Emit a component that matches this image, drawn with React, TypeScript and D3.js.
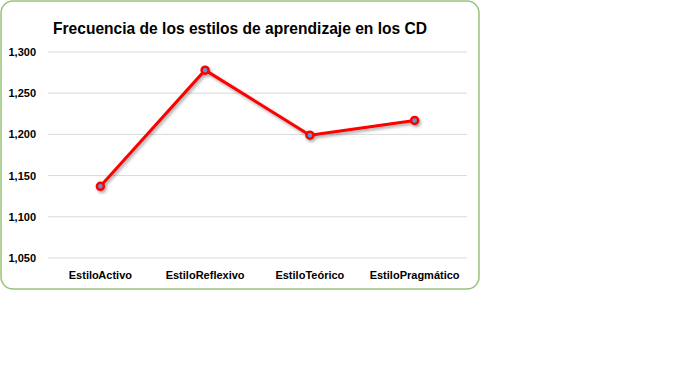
import React from 'react';
import * as d3 from 'd3';

const categories = ['Estilo Activo', 'Estilo Reflexivo', 'Estilo Teórico', 'Estilo Pragmático'];
const values = [1137, 1278, 1199, 1217];
const yTicks = [1050, 1100, 1150, 1200, 1250, 1300];

const App: React.FC = () => {
  const width = 690;
  const height = 373;
  const margin = { top: 52, right: 223, bottom: 115, left: 48 };

  const x = d3.scaleBand<string>()
    .domain(categories)
    .range([margin.left, width - margin.right]);

  const y = d3.scaleLinear()
    .domain([1050, 1300])
    .range([height - margin.bottom, margin.top]);

  const fmt = d3.format(',');

  const line = d3.line<number>()
    .x((_, i) => x(categories[i])! + x.bandwidth() / 2)
    .y(d => y(d));

  const font = '"Liberation Sans", Arial, sans-serif';

  return (
    <svg width={width} height={height} style={{ position: 'absolute', left: 0, top: 0, background: '#fff' }}>
      <defs>
        <filter id="shadow" x="-20%" y="-20%" width="140%" height="140%">
          <feDropShadow dx="1.5" dy="2" stdDeviation="1.5" floodColor="#000" floodOpacity="0.35" />
        </filter>
      </defs>
      <rect x={1} y={1} width={478} height={288} rx={12} ry={12}
        fill="#fff" stroke="#9bc37a" strokeWidth={1.5} />
      <text x={240} y={34} textAnchor="middle" fontFamily={font}
        fontWeight="bold" fontSize={17} textLength={374} lengthAdjust="spacingAndGlyphs" fill="#000">
        Frecuencia de los estilos de aprendizaje en los CD
      </text>

      {yTicks.map(t => (
        <g key={t}>
          <line x1={margin.left} x2={width - margin.right} y1={y(t)} y2={y(t)}
            stroke="#d9d9d9" strokeWidth={1} />
          <text x={36} y={y(t) + 4} textAnchor="end" fontFamily={font}
            fontWeight="bold" fontSize={11} fill="#000">{fmt(t)}</text>
        </g>
      ))}

      {categories.map(c => (
        <text key={c} x={x(c)! + x.bandwidth() / 2} y={279} textAnchor="middle"
          fontFamily={font} fontWeight="bold" fontSize={11} wordSpacing={-3} fill="#000">{c}</text>
      ))}

      <g filter="url(#shadow)">
        <path d={line(values) ?? ''} fill="none" stroke="#ff0000" strokeWidth={3}
          strokeLinejoin="round" />
        {values.map((v, i) => (
          <circle key={i} cx={x(categories[i])! + x.bandwidth() / 2} cy={y(v)} r={3.5}
            fill="#5b9bd5" stroke="#ff0000" strokeWidth={2.5} />
        ))}
      </g>
    </svg>
  );
};

export default App;
